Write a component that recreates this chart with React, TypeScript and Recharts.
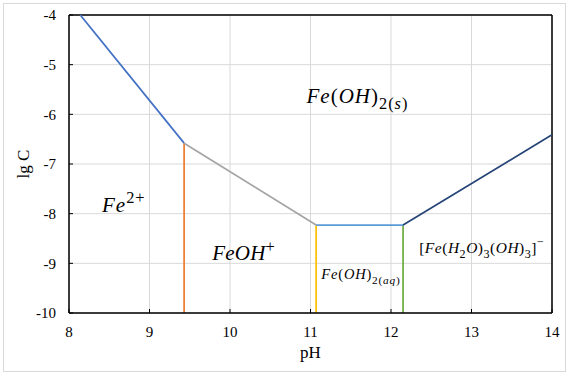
import React from 'react';
import {
  LineChart,
  Line,
  XAxis,
  YAxis,
  CartesianGrid,
  ReferenceLine,
  ReferenceDot,
  Label,
} from 'recharts';

// ---- data ----
const phTicks = [8, 9, 10, 11, 12, 13, 14];
const lgCTicks = [-10, -9, -8, -7, -6, -5, -4];
const boundaryPH = [8.14, 9.43, 11.07, 12.15, 14];
const boundaryLgC = [-4, -6.58, -8.23, -8.23, -6.41];
const lgCFloor = -10;
const segmentColors = ['#4472C4', '#A5A5A5', '#5B9BD5', '#264478'];
const dividerColors = ['#ED7D31', '#FFC000', '#70AD47'];

type Mode = 'n' | 'sub' | 'sup';
type Part = [string, Mode];
const speciesParts: Part[][] = [
  [['Fe', 'n'], ['2+', 'sup']],
  [['FeOH', 'n'], ['+', 'sup']],
  [['Fe(OH)', 'n'], ['2(s)', 'sub']],
  [['Fe(OH)', 'n'], ['2(aq)', 'sub']],
  [['[Fe(H', 'n'], ['2', 'sub'], ['O)', 'n'], ['3', 'sub'], ['(OH)', 'n'], ['3', 'sub'], [']', 'n'], ['\u2212', 'sup']],
];
const speciesPH = [8.41, 9.78, 10.95, 11.135, 12.35];
const speciesLgC = [-7.96, -8.94, -5.77, -9.32, -8.79];
const speciesFontSize = [21, 21, 21, 14.5, 15.5];
const speciesSpacing = [1, 0.2, 1, 0.8, 0.5];

// ---- derived series ----
const segments = boundaryPH.slice(0, -1).map((ph, i) => [
  { x: ph, y: boundaryLgC[i] },
  { x: boundaryPH[i + 1], y: boundaryLgC[i + 1] },
]);
const dividers = boundaryPH.slice(1, 4).map((ph, i) => [
  { x: ph, y: lgCFloor },
  { x: ph, y: boundaryLgC[i + 1] },
]);

const SERIF = 'Liberation Serif';

function MathText({
  x,
  y,
  parts,
  fs,
  ls,
}: {
  x: number;
  y: number;
  parts: Part[];
  fs: number;
  ls: number;
}) {
  const spans: React.ReactNode[] = [];
  let shift = 0;
  parts.forEach(([t, mode], i) => {
    const target = mode === 'sub' ? 0.3 * fs : mode === 'sup' ? -0.42 * fs : 0;
    const size = mode === 'n' ? fs : 0.78 * fs;
    const runs = t.match(/[A-Za-z]+|[^A-Za-z]+/g) || [];
    runs.forEach((r, j) => {
      const dy = j === 0 ? target - shift : 0;
      spans.push(
        <tspan
          key={`${i}-${j}`}
          dy={dy}
          fontSize={size}
          fontStyle={/[A-Za-z]/.test(r) ? 'italic' : 'normal'}
        >
          {r}
        </tspan>
      );
    });
    shift = target;
  });
  return (
    <text x={x} y={y} fontFamily={SERIF} fill="#000" style={{ letterSpacing: ls }}>
      {spans}
    </text>
  );
}

const renderXTick = (props: any) => (
  <text
    key={`xt-${props.payload.value}`}
    x={props.x}
    y={props.y}
    dy="0.71em"
    textAnchor="middle"
    fontFamily={SERIF}
    fontSize={15}
    fill="#000"
  >
    {props.payload.value}
  </text>
);

const renderYTick = (props: any) => (
  <text
    key={`yt-${props.payload.value}`}
    x={props.x}
    y={props.y}
    dy="0.355em"
    textAnchor="end"
    fontFamily={SERIF}
    fontSize={15}
    fill="#000"
  >
    {props.payload.value}
  </text>
);

export default function App() {
  return (
    <div
      style={{
        position: 'absolute',
        left: 0,
        top: 0,
        width: 571,
        height: 375,
        background: '#fff',
        fontFamily: SERIF,
      }}
    >
      <div
        style={{
          position: 'absolute',
          left: 3,
          top: 3,
          width: 563,
          height: 369,
          boxSizing: 'border-box',
          border: '1px solid #d9d9d9',
        }}
      />
      <div style={{ position: 'absolute', left: 0, top: 0 }}>
        <LineChart width={571} height={375} margin={{ top: 15, right: 19, bottom: 8, left: 8 }}>
          <CartesianGrid stroke="#d9d9d9" strokeWidth={1} />
          <XAxis
            type="number"
            dataKey="x"
            domain={[8, 14]}
            ticks={phTicks}
            interval={0}
            allowDataOverflow
            height={54}
            axisLine={{ stroke: '#000', strokeWidth: 1.5 }}
            tickLine={{ stroke: '#000', strokeWidth: 1 }}
            tickSize={-4}
            tickMargin={17}
            tick={renderXTick}
          >
            <Label
              content={(p: any) => {
                const vb = p.viewBox;
                return (
                  <text
                    x={vb.x + vb.width / 2}
                    y={vb.y + 45}
                    textAnchor="middle"
                    fontSize={17}
                    fontFamily={SERIF}
                    fill="#000"
                  >
                    pH
                  </text>
                );
              }}
            />
          </XAxis>
          <YAxis
            type="number"
            domain={[-10, -4]}
            ticks={lgCTicks}
            interval={0}
            allowDataOverflow
            width={61}
            axisLine={{ stroke: '#000', strokeWidth: 1.5 }}
            tickLine={{ stroke: '#000', strokeWidth: 1 }}
            tickSize={-4}
            tickMargin={17}
            tick={renderYTick}
          >
            <Label
              content={(p: any) => {
                const vb = p.viewBox;
                const cx = vb.x + 15;
                const cy = vb.y + vb.height / 2;
                return (
                  <text
                    x={cx}
                    y={cy}
                    transform={`rotate(-90 ${cx} ${cy})`}
                    textAnchor="middle"
                    dominantBaseline="central"
                    fontSize={17}
                    fontFamily={SERIF}
                    fill="#000"
                  >
                    lg C
                  </text>
                );
              }}
            />
          </YAxis>
          <ReferenceLine x={14} stroke="#000" strokeWidth={1.5} />
          <ReferenceLine y={-4} stroke="#000" strokeWidth={1.5} />
          {dividers.map((d, i) => (
            <Line
              key={`div-${i}`}
              data={d}
              dataKey="y"
              type="linear"
              stroke={dividerColors[i]}
              strokeWidth={1.75}
              dot={false}
              activeDot={false}
              isAnimationActive={false}
            />
          ))}
          {segments.map((s, i) => (
            <Line
              key={`seg-${i}`}
              data={s}
              dataKey="y"
              type="linear"
              stroke={segmentColors[i]}
              strokeWidth={1.75}
              dot={false}
              activeDot={false}
              isAnimationActive={false}
            />
          ))}
          {speciesParts.map((parts, i) => (
            <ReferenceDot
              key={`lab-${i}`}
              x={speciesPH[i]}
              y={speciesLgC[i]}
              r={0}
              fill="none"
              stroke="none"
              label={(p: any) => (
                <MathText
                  x={p.viewBox.x}
                  y={p.viewBox.y}
                  parts={parts}
                  fs={speciesFontSize[i]}
                  ls={speciesSpacing[i]}
                />
              )}
            />
          ))}
        </LineChart>
      </div>
    </div>
  );
}
